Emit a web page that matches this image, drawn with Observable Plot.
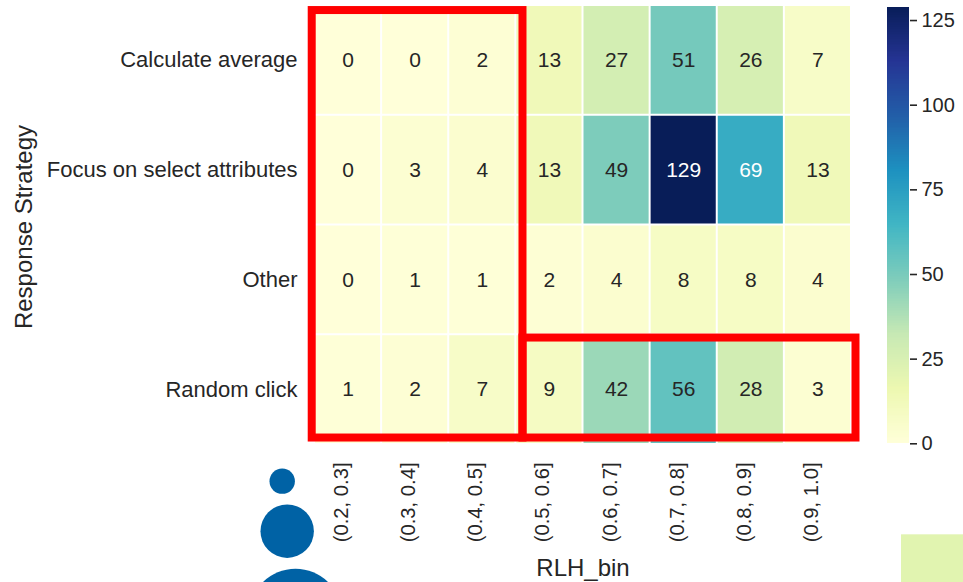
<!DOCTYPE html>
<html><head><meta charset="utf-8">
<script src="https://cdn.jsdelivr.net/npm/d3@7"></script>
<script src="https://cdn.jsdelivr.net/npm/@observablehq/plot@0.6"></script>
<style>
body{margin:0;background:#fff;}
#wrap{position:relative;width:963px;height:582px;overflow:hidden;background:#fff;}
#wrap svg{position:absolute;left:0;top:0;}
</style></head><body><div id="wrap"></div>
<script>
// ---- data ----
const strategies = ["Calculate average", "Focus on select attributes", "Other", "Random click"];
const bins = ["(0.2, 0.3]", "(0.3, 0.4]", "(0.4, 0.5]", "(0.5, 0.6]", "(0.6, 0.7]", "(0.7, 0.8]", "(0.8, 0.9]", "(0.9, 1.0]"];
const calculateAverage = [0, 0, 2, 13, 27, 51, 26, 7];
const focusOnSelect    = [0, 3, 4, 13, 49, 129, 69, 13];
const other            = [0, 1, 1, 2, 4, 8, 8, 4];
const randomClick      = [1, 2, 7, 9, 42, 56, 28, 3];
const colorTicks = [0, 25, 50, 75, 100, 125];
const colorMax = 129;
// highlight boxes in cell units (column / row index)
const highlightBoxes = [
  {c1: -0.034, c2: 3.106, r1: 0.046, r2: 3.941},
  {c1: 3.106, c2: 8.067, r1: 3.030, r2: 3.941}
];
// cropped legend fragments visible in the picture
const legendDots = [
  {c: -0.481, r: 4.334, size: 12.7},
  {c: -0.407, r: 4.790, size: 26.7},
  {c: -0.283, r: 5.557, size: 46.6}
];
const legendPatch = [{c1: 8.745, c2: 9.8, r1: 4.823, r2: 5.5}];

// ---- build ----
const rows = [calculateAverage, focusOnSelect, other, randomClick];
const cells = rows.flatMap((vals, r) => vals.map((v, c) => ({r, c, v})));
const ylgnbu = ["#ffffd9","#edf8b1","#c7e9b4","#7fcdbb","#41b6c4","#1d91c0","#225ea8","#253494","#081d58"];
const interp = d3.piecewise(d3.interpolateRgb, ylgnbu);
const colorScale = {type: "linear", domain: [0, colorMax], interpolate: interp};
function lum(col) {
  const c = d3.rgb(col);
  const f = x => { x /= 255; return x <= 0.03928 ? x / 12.92 : Math.pow((x + 0.055) / 1.055, 2.4); };
  return 0.2126 * f(c.r) + 0.7152 * f(c.g) + 0.0722 * f(c.b);
}
const textColor = v => lum(interp(v / colorMax)) < 0.408 ? "#ffffff" : "#262626";
const font = "'Liberation Sans', Arial, Helvetica, sans-serif";

const W = 963, H = 582;
const main = Plot.plot({
  width: W, height: H,
  marginLeft: 314, marginRight: 112, marginTop: 5, marginBottom: 138,
  style: {fontFamily: font, fontSize: "22px", color: "#262626", background: "transparent", overflow: "visible"},
  x: {domain: [0, 8], axis: null},
  y: {domain: [0, 4], reverse: true, axis: null},
  r: {type: "identity"},
  color: colorScale,
  marks: [
    Plot.rect(cells, {x1: d => d.c, x2: d => d.c + 1, y1: d => d.r, y2: d => d.r + 1, fill: "v", inset: 1}),
    Plot.text(cells, {x: d => d.c + 0.5, y: d => d.r + 0.5, text: d => String(d.v), fill: d => textColor(d.v), fontSize: 21}),
    Plot.rect(highlightBoxes, {x1: "c1", x2: "c2", y1: "r1", y2: "r2", fill: "none", stroke: "#ff0000", strokeWidth: 8, clip: false}),
    Plot.text(strategies, {y: (d, i) => i + 0.5, frameAnchor: "left", textAnchor: "end", dx: -17, fill: "#262626", fontSize: 22}),
    Plot.text(bins, {x: (d, i) => i + 0.5, frameAnchor: "bottom", rotate: -90, textAnchor: "end", dy: 18, fill: "#262626", fontSize: 20.2}),
    Plot.text(["Response Strategy"], {frameAnchor: "left", textAnchor: "middle", dx: -290, dy: 2, rotate: -90, fill: "#262626", fontSize: 24}),
    Plot.text(["RLH_bin"], {frameAnchor: "bottom", textAnchor: "middle", dy: 131, fill: "#262626", fontSize: 24}),
    Plot.dot(legendDots, {x: "c", y: "r", r: "size", fill: "#0062a5", stroke: "none"}),
    Plot.rect(legendPatch, {x1: "c1", x2: "c2", y1: "r1", y2: "r2", fill: "#e1f4b0"})
  ]
});

const cbValues = d3.range(0, colorMax, 0.5);
const cbar = Plot.plot({
  width: W, height: H,
  marginLeft: 887, marginRight: W - 909, marginTop: 6.5, marginBottom: H - 443.3,
  style: {fontFamily: font, fontSize: "20px", color: "#262626", background: "transparent", overflow: "visible"},
  x: {domain: [0, 1], axis: null},
  y: {domain: [0, colorMax], axis: null},
  color: colorScale,
  marks: [
    Plot.rect(cbValues, {x1: 0, x2: 1, y1: d => d, y2: d => Math.min(d + 1.2, colorMax), fill: d => d + 0.25, shapeRendering: "crispEdges"}),
    Plot.axisY(colorTicks, {anchor: "right", tickSize: 7, tickPadding: 5, fontSize: 20, color: "#262626", strokeWidth: 1.6})
  ]
});

const wrap = document.getElementById("wrap");
wrap.appendChild(main);
wrap.appendChild(cbar);
</script>
</body></html>
